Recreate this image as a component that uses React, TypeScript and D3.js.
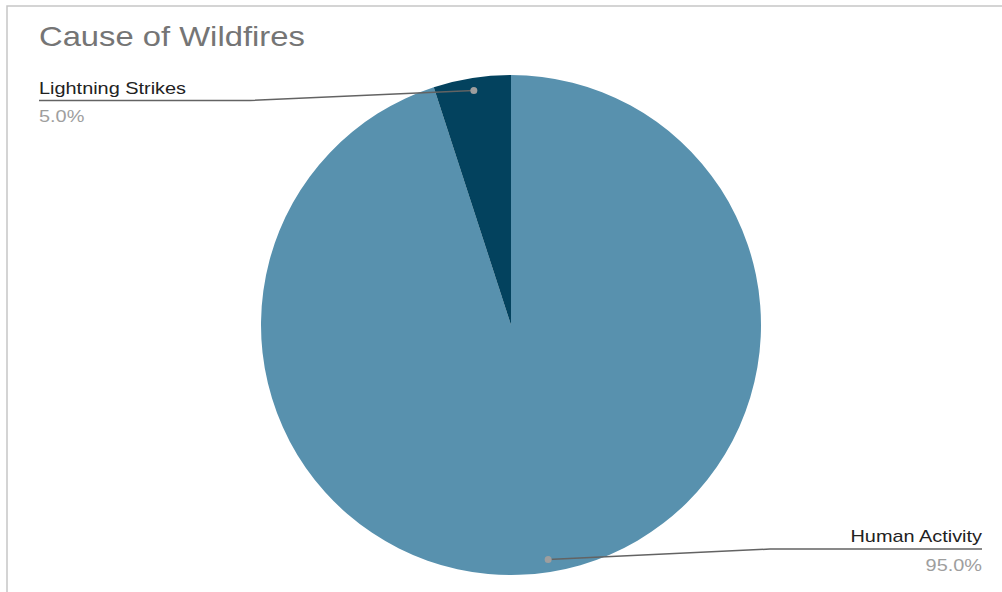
import React from "react";
import * as d3 from "d3";

const categories = ["Human Activity", "Lightning Strikes"];
const values = [95.0, 5.0];
const colors = ["#5891ae", "#03425e"];
const title = "Cause of Wildfires";

const W = 1002, H = 592;
const cx = 511, cy = 325, R = 250;
const SX = 1.17;

function T(props: { x: number; y: number; size: number; fill: string; anchor?: string; children: React.ReactNode }) {
  return (
    <text
      transform={`translate(${props.x},${props.y}) scale(${SX},1)`}
      fontSize={props.size}
      fill={props.fill}
      textAnchor={props.anchor || "start"}
    >
      {props.children}
    </text>
  );
}

export default function App() {
  const pie = d3.pie<number>().sort(null).value((d) => d)(values);
  const arc = d3.arc<d3.PieArcDatum<number>>().innerRadius(0).outerRadius(R);
  const total = d3.sum(values);
  const fmt = (v: number) => ((v / total) * 100).toFixed(1) + "%";
  const dotPos = (a: d3.PieArcDatum<number>) => {
    const m = (a.startAngle + a.endAngle) / 2;
    return [cx + Math.sin(m) * R * 0.95, cy - Math.cos(m) * R * 0.95];
  };
  const font = "Liberation Sans, Arial, sans-serif";
  const [hd, ld] = [dotPos(pie[0]), dotPos(pie[1])];
  return (
    <svg width={W} height={H} style={{ position: "absolute", left: 0, top: 0, background: "#fff" }} fontFamily={font}>
      <rect x={7} y={6} width={W} height={H} fill="#fff" stroke="#c6c6c6" strokeWidth={1.5} />
      <T x={39} y={45.5} size={28} fill="#757575">{title}</T>
      <g>
        {pie.map((p, i) => (
          <path key={categories[i]} d={arc(p) || ""} transform={`translate(${cx},${cy})`} fill={colors[i]} />
        ))}
      </g>
      {/* Lightning label */}
      <polyline points={`${ld[0]},${ld[1]} 250,100.5 39,100.5`} fill="none" stroke="#636363" strokeWidth={1.5} />
      <circle cx={ld[0]} cy={ld[1]} r={3.5} fill="#9e9e9e" />
      <T x={39} y={94} size={17} fill="#222">{categories[1]}</T>
      <T x={39} y={122} size={17} fill="#9e9e9e">{fmt(values[1])}</T>
      {/* Human label */}
      <polyline points={`${hd[0]},${hd[1]} 770,549 982,549`} fill="none" stroke="#636363" strokeWidth={1.5} />
      <circle cx={hd[0]} cy={hd[1]} r={3.5} fill="#9e9e9e" />
      <T x={982} y={541.5} size={17} fill="#222" anchor="end">{categories[0]}</T>
      <T x={982} y={570.5} size={17} fill="#9e9e9e" anchor="end">{fmt(values[0])}</T>
    </svg>
  );
}
